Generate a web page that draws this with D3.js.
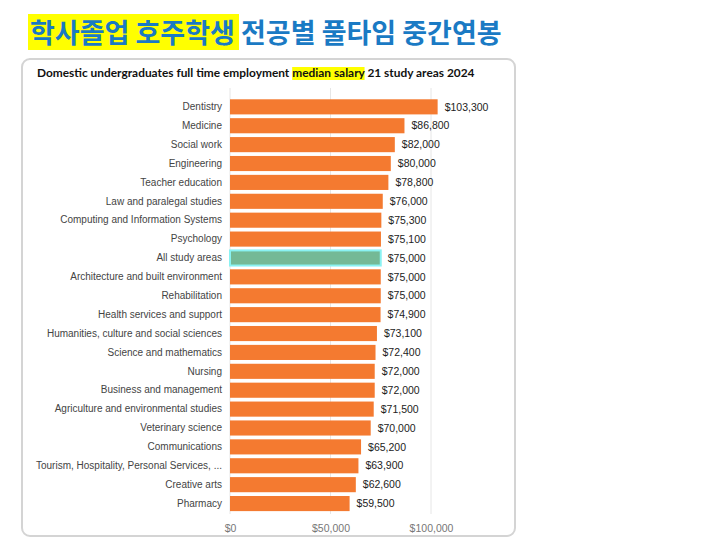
<!DOCTYPE html>
<html>
<head>
<meta charset="utf-8">
<script src="https://cdn.jsdelivr.net/npm/d3@7"></script>
<style>
  body { margin: 0; background: #fff; }
</style>
</head>
<body>
<div id="chart"></div>
<script>
"use strict"

const categories = [
    "Dentistry", "Medicine", "Social work", "Engineering", "Teacher education",
    "Law and paralegal studies", "Computing and Information Systems", "Psychology",
    "All study areas", "Architecture and built environment", "Rehabilitation",
    "Health services and support", "Humanities, culture and social sciences",
    "Science and mathematics", "Nursing", "Business and management",
    "Agriculture and environmental studies", "Veterinary science", "Communications",
    "Tourism, Hospitality, Personal Services, ...", "Creative arts", "Pharmacy"
];
const salaries = [
    103300, 86800, 82000, 80000, 78800, 76000, 75300, 75100, 75000, 75000, 75000,
    74900, 73100, 72400, 72000, 72000, 71500, 70000, 65200, 63900, 62600, 59500
];
const highlighted = ["All study areas"];
const xTicks = [0, 50000, 100000];

const width = 720, height = 540;

let svg = d3.select("#chart").append("svg")
    .attr("width", width)
    .attr("height", height);

// big korean heading, first part on yellow
let titleGroup = svg.append("g");
titleGroup.append("rect")
    .attr("x", 28).attr("y", 14)
    .attr("width", 211).attr("height", 36)
    .style("fill", "#ffff00");
titleGroup.append("text")
    .attr("x", 30)
    .attr("y", 43)
    .style("font-family", "'Noto Sans CJK KR', sans-serif")
    .style("font-size", "27px")
    .style("font-weight", "bold")
    .style("fill", "#1a7ac4")
    .text("학사졸업 호주학생 전공별 풀타임 중간연봉");

// card
svg.append("rect")
    .attr("x", 22).attr("y", 59)
    .attr("width", 493).attr("height", 477)
    .attr("rx", 8)
    .style("fill", "#fff")
    .style("stroke", "#d4d4d4")
    .style("stroke-width", 2);

// subtitle with highlighted words
let subGroup = svg.append("g");
let hlRect = subGroup.append("rect")
    .style("fill", "#ffff00");
let sub = subGroup.append("text")
    .attr("x", 37)
    .attr("y", 77)
    .style("font-family", "Lato, 'Open Sans', sans-serif")
    .style("font-size", "11.9px")
    .style("font-weight", "bold")
    .style("fill", "#111");
const subBefore = "Domestic undergraduates full time employment ";
sub.append("tspan").text(subBefore);
let hl = sub.append("tspan").text("median salary");
sub.append("tspan").text(" 21 study areas 2024");

// size the yellow box from the rendered text
let start = sub.node().getSubStringLength(0, subBefore.length);
let hlLen = hl.node().getComputedTextLength();
hlRect
    .attr("x", 37 + start)
    .attr("y", 67)
    .attr("width", hlLen)
    .attr("height", 13);

let x = d3.scaleLinear()
    .domain([0, 100000])
    .range([230, 431]);

let y = d3.scaleBand()
    .domain(categories)
    .range([97.4, 513.0])
    .paddingInner(0.2)
    .paddingOuter(0.1);

// grid
svg.append("g")
    .selectAll("line")
    .data(xTicks)
    .join("line")
    .attr("x1", d => x(d))
    .attr("x2", d => x(d))
    .attr("y1", 88)
    .attr("y2", 514)
    .style("stroke", "#e6e6e6")
    .style("stroke-width", 1);

// x axis labels
let xAxis = svg.append("g")
    .attr("transform", "translate(0,517)")
    .call(d3.axisBottom(x).tickValues(xTicks).tickSize(0).tickPadding(8)
        .tickFormat(d => "$" + d3.format(",")(d)));
xAxis.select(".domain").remove();
xAxis.selectAll("text")
    .style("font-family", "'Liberation Sans', Arial, sans-serif")
    .style("font-size", "10.5px")
    .style("fill", "#777");

// category labels
let yAxis = svg.append("g")
    .attr("transform", "translate(230,0)")
    .call(d3.axisLeft(y).tickSize(0).tickPadding(8));
yAxis.select(".domain").remove();
yAxis.selectAll("text")
    .style("font-family", "'Liberation Sans', Arial, sans-serif")
    .style("font-size", "10px")
    .style("fill", "#444");

let rows = categories.map((c, i) => ({ name: c, value: salaries[i] }));

// bars
svg.append("g")
    .selectAll("rect")
    .data(rows)
    .join("rect")
    .attr("x", x(0))
    .attr("y", d => y(d.name))
    .attr("width", d => x(d.value) - x(0))
    .attr("height", y.bandwidth())
    .style("fill", d => highlighted.includes(d.name) ? "#74b996" : "#f47a30")
    .style("stroke", d => highlighted.includes(d.name) ? "#8af2f2" : "none")
    .style("stroke-width", 2);

// value labels
svg.append("g")
    .selectAll("text")
    .data(rows)
    .join("text")
    .attr("x", d => x(d.value) + 7)
    .attr("y", d => y(d.name) + y.bandwidth() / 2)
    .attr("dy", "0.35em")
    .style("font-family", "'Liberation Sans', Arial, sans-serif")
    .style("font-size", "10.5px")
    .style("fill", "#222")
    .text(d => "$" + d3.format(",")(d.value));
</script>
</body>
</html>
